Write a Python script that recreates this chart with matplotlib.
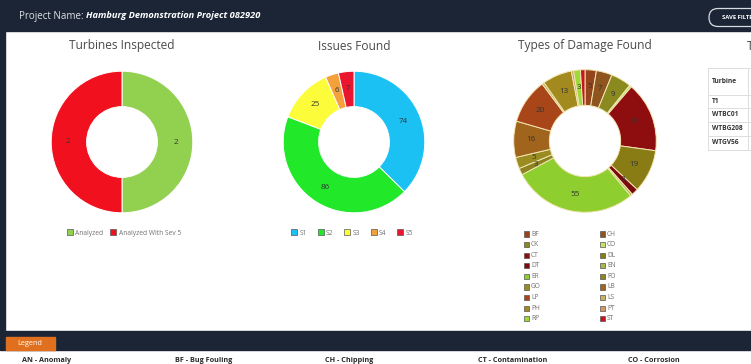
import numpy as np
import matplotlib.pyplot as plt
from matplotlib.patches import Rectangle, FancyBboxPatch, Patch

W, H = 751, 364

turbine_labels = ["Analyzed", "Analyzed With Sev 5"]
turbine_values = [2, 2]
turbine_colors = ["#92d050", "#f0101e"]

issue_labels = ["S1", "S2", "S3", "S4", "S5"]
issue_values = [74, 86, 25, 6, 7]
issue_colors = ["#1cc1f4", "#22e82a", "#fcfc3a", "#f4a13c", "#ea1630"]

damage_codes = ["BF", "CH", "CK", "CO", "CT", "DL", "DT", "EN", "ER",
                "FO", "GO", "LB", "LP", "LS", "PH", "PT", "RP", "ST"]
damage_values = [5, 7, 9, 1, 31, 19, 3, 1, 55, 3, 5, 16, 20, 1, 13, 1, 3, 2]
damage_colors = ["#96441c", "#8e561e", "#8a8a1e", "#c6e26a", "#8e0e10", "#8a7c14",
                 "#7c0a0c", "#a8b64a", "#8ece2e", "#8c8420", "#9a8c20", "#a0641c",
                 "#a8461a", "#c8b060", "#a28a1e", "#d49a66", "#9ed93a", "#c4161c"]

table_title = "Turbine"
table_rows = ["T1", "WTBC01", "WTBG208", "WTGV56"]
glossary = ["AN - Anomaly", "BF - Bug Fouling", "CH - Chipping",
            "CT - Contamination", "CO - Corrosion"]

plt.rcParams["font.family"] = ["Open Sans", "DejaVu Sans"]
NAVY = "#1b2535"

fig = plt.figure(figsize=(W / 100, H / 100), dpi=100)
fig.patch.set_facecolor("white")

bg = fig.add_axes([0, 0, 1, 1])
bg.set_xlim(0, W)
bg.set_ylim(H, 0)
bg.axis("off")

# header bar
bg.add_patch(Rectangle((0, 0), W, 31, color=NAVY))
bg.add_patch(Rectangle((0, 0), 5, 335, color=NAVY))
bg.text(19, 16, "Project Name: ", color="#dfe3e8", fontsize=7, va="center")
bg.text(86, 16, "Hamburg Demonstration Project 082920", color="white",
        fontsize=6.7, va="center", fontweight="bold", fontstyle="italic")
bg.add_patch(FancyBboxPatch((709, 8.5), 60, 18, boxstyle="round,pad=0,rounding_size=9",
                            fill=False, edgecolor="#d8dce2", linewidth=0.9))
bg.text(722, 17.5, "SAVE FILTER", color="white", fontsize=4.2, fontweight="bold",
        va="center")

# bottom legend bar
bg.add_patch(Rectangle((0, 331), W, 19, color=NAVY))
bg.add_patch(Rectangle((6, 337), 49, 13, color="#e0701e"))
bg.text(30, 343.5, "Legend", color="white", fontsize=5.2, ha="center", va="center")
for x, g in zip([22, 175, 325, 478, 628], glossary):
    bg.text(x, 357, g, color="#2a2a2a", fontsize=5.2, va="top", fontweight="bold")

# right table (cut off)
bg.text(747, 46, "T", color="#444444", fontsize=8.6, va="center")
rows_y = [68, 95, 108, 122, 136, 150]
for y in rows_y:
    bg.plot([708, W], [y, y], color="#dddddd", linewidth=0.7)
bg.plot([708, 708], [68, 150], color="#dddddd", linewidth=0.7)
bg.plot([748, 748], [68, 150], color="#dddddd", linewidth=0.7)
bg.text(712, 81.5, table_title, color="#333333", fontsize=4.8, va="center",
        fontweight="bold")
for i, r in enumerate(table_rows):
    bg.text(712, (rows_y[i + 1] + rows_y[i + 2]) / 2, r, color="#333333",
            fontsize=4.8, va="center", fontweight="bold")


def px_axes(cx, cy, r):
    return fig.add_axes([(cx - r) / W, 1 - (cy + r) / H, 2 * r / W, 2 * r / H])


def donut(cx, cy, r, title, values, colors, label_min=3, edge="white"):
    ax = px_axes(cx, cy, r)
    wedges, _ = ax.pie(values, colors=colors, startangle=90, counterclock=False,
                       radius=1, wedgeprops=dict(width=0.5, edgecolor=edge,
                                                 linewidth=0.7))
    for w, v in zip(wedges, values):
        if v < label_min:
            continue
        a = np.deg2rad((w.theta1 + w.theta2) / 2)
        ax.text(0.76 * np.cos(a), 0.76 * np.sin(a), str(v), ha="center",
                va="center", fontsize=5.8, color="#333333")
    ax.set_xlim(-1.01, 1.01)
    ax.set_ylim(-1.01, 1.01)
    bg.text(cx, 46, title, ha="center", va="center", fontsize=8.6, color="#4a4a4a")
    return ax


donut(122, 142, 71.5, "Turbines Inspected", turbine_values, turbine_colors, 1)
donut(354, 142, 71.5, "Issues Found", issue_values, issue_colors, 3)
donut(585, 141, 72, "Types of Damage Found", damage_values, damage_colors, 3,
      edge="#f2e6b4")


def patch(c):
    return Patch(facecolor=c, edgecolor="#555555", linewidth=0.5)


for cx, labels, colors, sp in [(124, turbine_labels, turbine_colors, 1.0),
                               (352, issue_labels, issue_colors, 1.6)]:
    fig.legend([patch(c) for c in colors], labels, loc="center",
               bbox_to_anchor=(cx / W, 1 - 233 / H), ncol=len(labels),
               frameon=False, fontsize=4.8, handlelength=0.9, handleheight=0.9,
               handletextpad=0.35, columnspacing=sp, labelcolor="#707070")

for i, (code, c) in enumerate(zip(damage_codes, damage_colors)):
    x = 524 + (i % 2) * 76
    y = 234 + (i // 2) * 10.6
    bg.add_patch(Rectangle((x, y - 2.6), 5.2, 5.2, facecolor=c,
                           edgecolor="#555555", linewidth=0.5))
    bg.text(x + 7, y, code, fontsize=4.8, color="#707070", va="center")

fig.savefig("out.png", dpi=100)
